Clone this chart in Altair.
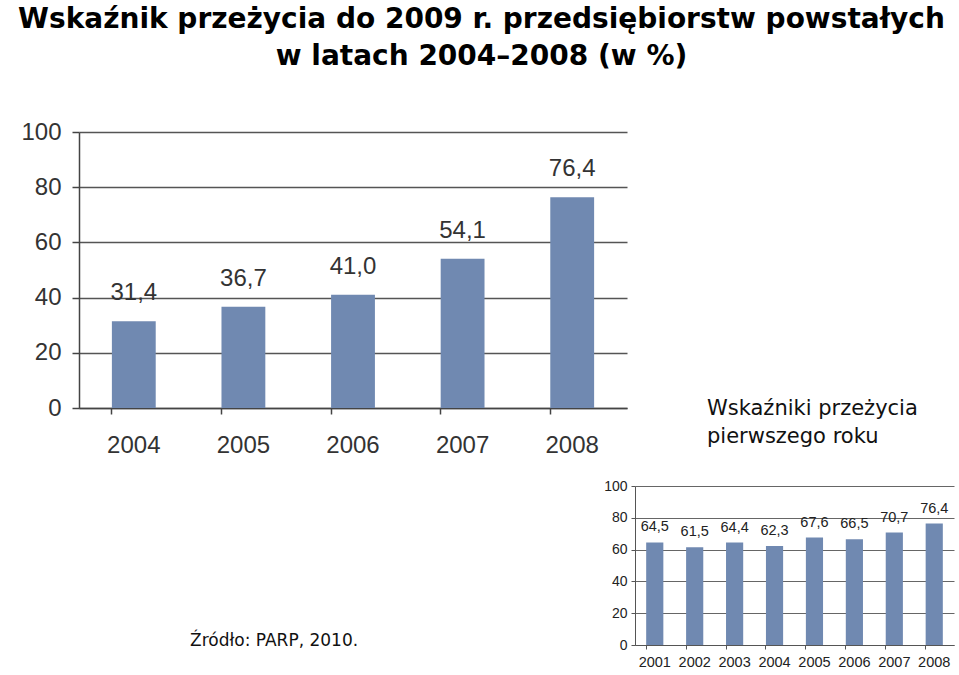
import altair as alt
import pandas as pd

# ---- data ----
years_main = ["2004", "2005", "2006", "2007", "2008"]
values_main = [31.4, 36.7, 41.0, 54.1, 76.4]
labels_main = ["31,4", "36,7", "41,0", "54,1", "76,4"]

years_small = ["2001", "2002", "2003", "2004", "2005", "2006", "2007", "2008"]
values_small = [64.5, 61.5, 64.4, 62.3, 67.6, 66.5, 70.7, 76.4]
labels_small = ["64,5", "61,5", "64,4", "62,3", "67,6", "66,5", "70,7", "76,4"]

y_ticks = [0, 20, 40, 60, 80, 100]

title_lines = ["Wskaźnik przeżycia do 2009 r. przedsiębiorstw powstałych",
               "w latach 2004\u20132008 (w %)"]
note_text = "Wskaźniki przeżycia\npierwszego roku"
source_text = "Źródło: PARP, 2010."

BAR = "#7089b1"
LABEL_FONT = "Liberation Sans, Arial, sans-serif"
TAHOMA = "DejaVu Sans, sans-serif"

df_main = pd.DataFrame({"year": years_main, "value": values_main, "label": labels_main})
df_small = pd.DataFrame({"year": years_small, "value": values_small, "label": labels_small})

# ---- main chart ----
x_main = alt.X("year:N", sort=years_main, title=None,
               scale=alt.Scale(paddingInner=0.6, paddingOuter=0.3),
               axis=alt.Axis(bandPosition=0, labelAngle=0, labelFont=LABEL_FONT,
                             labelFontSize=24, labelColor="#333", labelPadding=19,
                             tickSize=6, tickColor="#444", tickWidth=1.5,
                             domainColor="#444", domainWidth=1.5, grid=False))
y_main = alt.Y("value:Q", title=None,
               scale=alt.Scale(domain=[0, 100], nice=False),
               axis=alt.Axis(values=y_ticks, labelFont=LABEL_FONT, labelFontSize=24,
                             labelColor="#333", labelPadding=11, tickSize=7,
                             labelOverlap=False,
                             tickColor="#444", tickWidth=1.5, domainColor="#444",
                             domainWidth=1.5, grid=True, gridColor="#555",
                             gridWidth=1.5))

base_main = alt.Chart(df_main)
bars_main = base_main.mark_bar(color=BAR).encode(x=x_main, y=y_main)
text_main = base_main.mark_text(font=LABEL_FONT, fontSize=24, color="#333",
                                baseline="alphabetic", dy=-21).encode(
    x=x_main, y=y_main, text="label:N")
note = alt.Chart(pd.DataFrame({"t": [note_text]})).mark_text(
    font=TAHOMA, fontSize=21, color="#111", align="left", baseline="alphabetic",
    lineBreak="\n", lineHeight=28).encode(
    x=alt.value(628), y=alt.value(283), text="t:N")

main = alt.layer(bars_main, text_main, note).properties(width=548, height=276)

# ---- small chart ----
x_small = alt.X("year:N", sort=years_small, title=None,
                scale=alt.Scale(paddingInner=0.57, paddingOuter=0.28),
                axis=alt.Axis(bandPosition=0, labelAngle=0, labelFont=LABEL_FONT,
                              labelFontSize=14.5, labelColor="#222", labelPadding=6,
                              tickSize=4, tickColor="#555", domainColor="#555",
                              labelOverlap=False, grid=False))
y_small = alt.Y("value:Q", title=None,
                scale=alt.Scale(domain=[0, 100], nice=False),
                axis=alt.Axis(values=y_ticks, labelFont=LABEL_FONT, labelFontSize=14,
                              labelColor="#222", labelPadding=4, tickSize=4,
                              labelOverlap=False,
                              tickColor="#555", domainColor="#555", grid=True,
                              gridColor="#666", gridWidth=1))
base_small = alt.Chart(df_small)
bars_small = base_small.mark_bar(color=BAR).encode(x=x_small, y=y_small)
text_small = base_small.mark_text(font=LABEL_FONT, fontSize=14.5, color="#222",
                                  baseline="alphabetic", dy=-11).encode(
    x=x_small, y=y_small, text="label:N")
small = alt.layer(bars_small, text_small).properties(width=319, height=159)

# ---- source text panel ----
src = alt.Chart(pd.DataFrame({"t": [source_text]})).mark_text(
    font=TAHOMA, fontSize=17, color="#111", align="left", baseline="alphabetic").encode(
    x=alt.value(111), y=alt.value(160), text="t:N").properties(width=524, height=165)

bottom = alt.hconcat(src, small, spacing=0)

chart = alt.vconcat(main, bottom, spacing=22).properties(
    title=alt.TitleParams(text=title_lines, font=TAHOMA, fontSize=28,
                          fontWeight="bold", color="#000", anchor="middle",
                          lineHeight=37, offset=38, dy=-11, dx=-6),
    padding={"left": 18, "top": 6, "right": 1, "bottom": 0},
).configure_view(stroke=None)

chart.save("out.html", embed_options={"renderer": "svg", "actions": False})
